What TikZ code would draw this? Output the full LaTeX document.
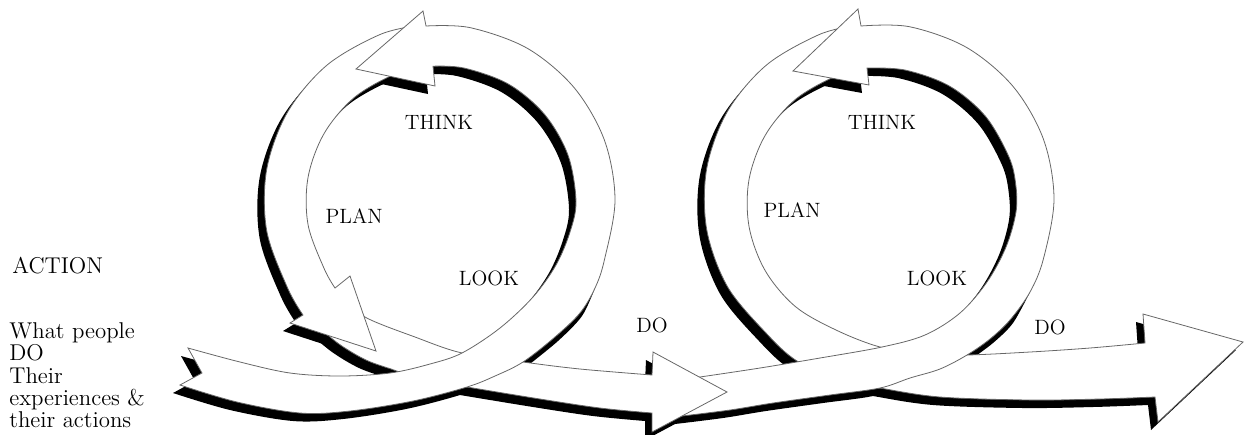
\documentclass[tikz,border=0pt]{standalone}
\begin{document}
\begin{tikzpicture}[x=0.02cm,y=-0.02cm]
\tikzset{
  ribbon/.style={fill=white,draw=black!60,line width=0.45pt,line join=miter},
  shadowfill/.style={fill=black,shift={(-7,8)}},
  lbl/.style={font=\fontsize{11.8pt}{13pt}\selectfont,inner sep=0pt,anchor=base},
  lblL/.style={font=\fontsize{13pt}{15pt}\selectfont,inner sep=0pt,anchor=base west}
}
\useasboundingbox (0,0) rectangle (1244,434);
% ---------- ribbon segments (screen pixel coordinates, y downwards) ----------
\newcommand\ShpTa[1]{%
\path[#1] (188,348) -- plot[smooth,tension=0.55] coordinates {(188,348) (240,362) (290,373) (340,376) (390,373) (430,364) (462,353) (500,328) (533,297) (556,265) (570,232) (576,201) (567.9,154.8) (544.4,114.2) (508.5,84.1) (464.4,68.1) (433,66.2)}
 -- (435,86) -- (356,69) -- (423,11) -- (426,26)
 -- plot[smooth,tension=0.55] coordinates {(426,26) (470.4,27.7) (527.5,48.4) (574,87.5) (604.4,140.1) (615,200) (604.4,259.9) (595,288) (580,313) (555,337) (523,362) (495,376) (467,387) (413,401) (350,411) (300,413) (237,402) (180,385)}
 -- (202,373) -- cycle;}
\newcommand\ShpLa[1]{%
\path[#1] (418.6,25.3) -- plot[smooth,tension=0.55] coordinates {(418.6,25.3) (379.8,34.6) (326.9,65.2) (287.6,112) (266.7,169.4) (266.7,230.6) (287.6,288) (303,315)}
 -- (290,323) -- (376,351) -- (350,276) -- (335,288)
 -- plot[smooth,tension=0.55] coordinates {(335,288) (324.1,268.5) (308,224.4) (308,177.6) (324.1,133.5) (354.2,97.6) (394.8,74.1) (424.5,67)} -- cycle;}
\newcommand\ShpDa[1]{%
\path[#1] (345,297) -- plot[smooth,tension=0.55] coordinates {(345,297) (365,317) (415,337) (462,353) (523,362) (580,369) (652,375)}
 -- (653,352) -- (727,392) -- (652,432) -- (652,413)
 -- plot[smooth,tension=0.55] coordinates {(652,413) (600,408) (540,399) (467,387) (420,379) (394,370) (366,360) (339,344) (315,324)} -- cycle;}
\newcommand\ShpTb[1]{%
\path[#1] (672,381) -- plot[smooth,tension=0.55] coordinates {(672,381) (700,377) (760,368) (820,358) (882,347) (925,335) (960,313) (987,282) (1006,247) (1016,212) (1015.7,184.2) (1008.9,156.8) (985.4,116.2) (949.5,86.1) (905.4,70.1) (867,68)}
 -- (869,85) -- (793,71) -- (858,9) -- (861,26)
 -- plot[smooth,tension=0.55] coordinates {(861,26) (909.4,26.7) (966.5,47.4) (1013.1,86.5) (1043.4,139.1) (1054,199) (1043.4,258.9) (1030,292) (1010,320) (990,339) (967,355) (940,369) (910,378) (880,388) (830,395) (773,403) (730,410) (682,416)}
 -- (668,414) -- cycle;}
\newcommand\ShpLb[1]{%
\path[#1] (854.6,25.7) -- plot[smooth,tension=0.55] coordinates {(854.6,25.7) (819.1,34.6) (766.5,65) (727.4,111.5) (706.7,168.6) (706.7,229.4) (727.4,286.5) (766,333) (797,361) (840,380) (880,388) (940,397) (1030,400) (1100,399) (1155,397)}
 -- (1158,422) -- (1243,342) -- (1143,314) -- (1145,343)
 -- plot[smooth,tension=0.55] coordinates {(1145,343) (1090,348) (1030,352) (967,355) (925,354) (880,347) (836,330) (795.2,306.4) (765.1,270.5) (749,226.4) (749,179.6) (765.1,135.5) (795.2,99.6) (835.8,76.1) (863.2,69.3)} -- cycle;}
% ---------- shadows ----------
\ShpLb{shadowfill}
\ShpTb{shadowfill}
\ShpDa{shadowfill}
\ShpLa{shadowfill}
\ShpTa{shadowfill}
\fill[black] (523,362) -- plot[smooth] coordinates {(523,362) (555,337) (580,313) (595,288)} -- plot[smooth] coordinates {(595,288) (582,316) (558,341) (526,367)} -- cycle;
\fill[black] (967,355) -- plot[smooth] coordinates {(967,355) (990,339) (1010,320) (1030,292)} -- plot[smooth] coordinates {(1030,292) (1013,323) (993,343) (970,360)} -- cycle;
% ---------- white ribbons, back to front ----------
\ShpLb{ribbon}
\ShpTb{ribbon}
\ShpDa{ribbon}
\ShpLa{ribbon}
\ShpTa{ribbon}
% ---------- labels ----------
\node[lbl] (think1) at (439,129) {THINK};
\node[lbl] (plan1) at (354,223) {PLAN};
\node[lbl] (look1) at (489,285) {LOOK};
\node[lbl] (do1) at (652,332) {DO};
\node[lbl] (think2) at (882,129) {THINK};
\node[lbl] (plan2) at (792,217) {PLAN};
\node[lbl] (look2) at (937,285) {LOOK};
\node[lbl] (do2) at (1050,334) {DO};
\node[lblL] (action) at (12,273) {ACTION};
\node[lblL] (w1) at (9,338) {What people};
\node[lblL] (w2) at (9,360) {DO};
\node[lblL] (w3) at (9,383) {Their};
\node[lblL] (w4) at (9,405) {experiences \&};
\node[lblL] (w5) at (9,427) {their actions};
\end{tikzpicture}
\end{document}
